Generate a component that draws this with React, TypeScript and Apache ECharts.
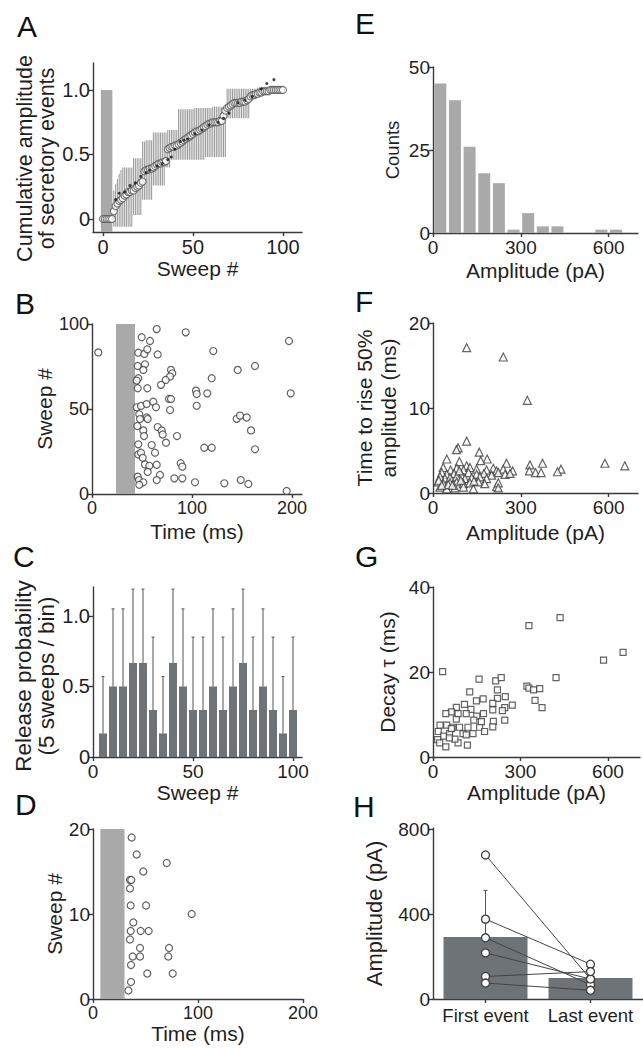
import React, { useEffect, useRef } from "react";
import * as echarts from "echarts";

// ---------------- Panel A: cumulative amplitude vs sweep ----------------
// index = sweep number (0..100)
const aMean = [0, 0, 0, 0, 0, 0,
  0.06, 0.10, 0.12, 0.14, 0.15,
  0.16, 0.18, 0.19, 0.21, 0.21,
  0.22, 0.22, 0.24, 0.25, 0.26,
  0.28, 0.29, 0.37, 0.38, 0.38,
  0.39, 0.39, 0.40, 0.41, 0.42,
  0.43, 0.43, 0.44, 0.44, 0.45,
  0.54, 0.55, 0.56, 0.56, 0.57,
  0.57, 0.58, 0.59, 0.60, 0.61,
  0.62, 0.63, 0.64, 0.65, 0.66,
  0.67, 0.68, 0.68, 0.69, 0.70,
  0.71, 0.72, 0.73, 0.74, 0.74,
  0.75, 0.75, 0.75, 0.75, 0.76,
  0.76, 0.80, 0.84, 0.86, 0.87,
  0.88, 0.89, 0.90, 0.90, 0.90,
  0.90, 0.91, 0.91, 0.91, 0.92,
  0.93, 0.95, 0.96, 0.96, 0.97,
  0.97, 0.98, 0.98, 0.99, 0.99,
  0.99, 0.99, 1.0, 1.0, 1.0,
  1.0, 1.0, 1.0, 1.0, 1.0];
const aUpper = [null, null, null, null, null, null,
  0.22, 0.27, 0.31, 0.35, 0.38,
  0.40, 0.40, 0.40, 0.40, 0.40,
  0.40, 0.47, 0.47, 0.47, 0.47,
  0.47, 0.60, 0.60, 0.61, 0.61,
  0.61, 0.61, 0.67, 0.67, 0.67,
  0.67, 0.67, 0.67, 0.67, 0.67,
  0.69, 0.69, 0.69, 0.69, 0.69,
  0.69, 0.85, 0.85, 0.85, 0.85,
  0.85, 0.85, 0.85, 0.85, 0.85,
  0.86, 0.86, 0.86, 0.86, 0.86,
  0.86, 0.86, 0.86, 0.86, 0.86,
  0.87, 0.87, 0.87, 0.87, 0.87,
  0.87, 0.87, 0.87, 1.01, 1.01,
  1.01, 1.01, 1.01, 1.01, 1.01,
  1.01, 1.01, 1.01, 1.01, 1.01,
  1.01, 1.01, 1.01, 1.01, 1.01,
  1.02, 1.02, 1.02, 1.02, 1.01,
  null, null, null, null, null,
  null, null, null, null, null];
const aLower = [null, null, null, null, null, null,
  -0.06, -0.06, -0.06, -0.06, -0.06,
  -0.06, -0.06, -0.06, -0.06, -0.06,
  -0.06, 0.03, 0.03, 0.03, 0.03,
  0.03, 0.15, 0.15, 0.15, 0.15,
  0.15, 0.15, 0.26, 0.26, 0.26,
  0.26, 0.26, 0.26, 0.26, 0.40,
  0.40, 0.40, 0.46, 0.46, 0.46,
  0.46, 0.46, 0.46, 0.46, 0.46,
  0.46, 0.46, 0.46, 0.46, 0.46,
  0.46, 0.46, 0.46, 0.46, 0.46,
  0.46, 0.48, 0.48, 0.48, 0.48,
  0.48, 0.48, 0.48, 0.48, 0.48,
  0.48, 0.48, 0.48, 0.78, 0.78,
  0.78, 0.78, 0.78, 0.78, 0.78,
  0.78, 0.78, 0.78, 0.78, 0.78,
  0.78, 0.93, 0.93, 0.93, 0.93,
  0.95, 0.97, 0.97, 0.97, 0.97,
  null, null, null, null, null,
  null, null, null, null, null];
const aDotSweep = [7, 9, 12, 15, 18, 21, 24, 26, 30, 33, 36, 38, 40, 43, 45, 47, 51, 55, 59, 64, 67, 70, 75, 79, 83, 88, 91, 95];
const aDotValue = [0.15, 0.20, 0.21, 0.26, 0.28, 0.33, 0.36, 0.38, 0.41, 0.43, 0.46, 0.48, 0.54, 0.60, 0.61, 0.62, 0.66, 0.69, 0.73, 0.75, 0.78, 0.82, 0.90, 0.92, 0.95, 1.01, 1.05, 1.08];
const aStim = [[-1.2, 5.2, -0.1, 1.0]]; // [x0, x1, y0, y1]

// ---------------- Panel B: raster, sweep vs time ----------------
const bTime = [6.3, 64.7, 93.7, 197, 49.7, 58, 46.3, 52.3, 55.3, 65.7, 121.3, 45.7, 53, 51.3, 79, 80.3, 78, 73.7, 69, 46.3, 44.7, 45.7, 55.3, 145.7, 163, 119.7, 77, 79, 104, 104.7, 115.3, 198.7, 44.7, 49, 54.7, 61.3, 64, 47.3, 48, 54.7, 55.7, 78, 104.7, 144.7, 148, 154.7, 159, 45.3, 51.3, 65.7, 69.7, 70.7, 52, 85, 74, 46.3, 59.7, 63, 112.3, 119.7, 163, 46.3, 49, 50.7, 53, 57.3, 55.7, 64.7, 88.7, 90.3, 45.7, 47, 51.3, 47.3, 68, 64.7, 82.3, 90.3, 103, 132.3, 148.7, 156.3, 194.7];
const bSweep = [83.3, 97, 95.1, 90, 92.2, 90, 83.1, 82.4, 85.1, 82.1, 84.1, 75.3, 76.3, 73, 73, 71, 69.1, 67.1, 64.2, 68.1, 66.7, 62.2, 62.2, 73, 75.3, 68.1, 55.9, 55.9, 60.8, 58.8, 59.2, 59.2, 51, 51.8, 52.9, 54.3, 51, 46.9, 44.1, 45, 44.1, 49.4, 51.9, 44.2, 46.1, 45, 37.4, 40, 37.4, 39.4, 37.4, 35, 34.1, 34.1, 30.2, 29.2, 28.8, 24.3, 27.2, 27.2, 26.3, 23.3, 24.3, 21.3, 17.4, 16.6, 13, 17.2, 18.1, 16.1, 10.2, 8.2, 6.9, 5.4, 11.2, 8.2, 9.2, 9.2, 6.9, 6.3, 8.2, 5.9, 1.8];
const bStim = [[24, 43, 0, 100]];

// ---------------- Panel C: release probability per 5-sweep bin ----------------
const cBin = [5, 10, 15, 20, 25, 30, 35, 40, 45, 50, 55, 60, 65, 70, 75, 80, 85, 90, 95, 100];
const cProb = [0.167, 0.5, 0.5, 0.667, 0.667, 0.333, 0.167, 0.667, 0.5, 0.333, 0.333, 0.5, 0.333, 0.5, 0.667, 0.333, 0.5, 0.333, 0.167, 0.333];
const cUpper = [0.57, 1.05, 1.05, 1.19, 1.19, 0.85, 0.57, 1.19, 1.05, 0.85, 0.85, 1.05, 0.85, 1.05, 1.19, 0.85, 1.05, 0.85, 0.57, 0.85];

// ---------------- Panel D: raster, first 20 sweeps ----------------
const dTime = [36.8, 41.6, 70.2, 47.9, 35.2, 36.5, 35.2, 35.9, 50.5, 94, 38.4, 35.9, 45.4, 53, 35.2, 44.8, 72.4, 37.8, 44.8, 71.7, 36.2, 51.7, 75.9, 36.2, 33.7];
const dSweep = [19, 17, 16, 15, 14, 14, 13, 11, 11, 10, 9, 8, 8, 8, 7, 6, 6, 5, 5, 5, 4, 3, 3, 2, 1];
const dStim = [[7, 30, 0, 20]];

// ---------------- Panel E: amplitude histogram (50 pA bins) ----------------
const eBinCenter = [25, 75, 125, 175, 225, 275, 325, 375, 425, 475, 525, 575, 625];
const eCounts = [45, 40, 26, 18, 15, 1, 6, 2, 2, 0, 0, 1, 1];

// ---------------- Panel F: rise time vs amplitude ----------------
const fAmp = [115, 240, 322, 115, 86, 80, 158, 185, 163, 47, 90, 115, 251, 331, 374, 437, 587, 655, 329, 350, 369, 425, 272, 217,
  35, 60, 81, 104, 126, 149, 183, 206, 217, 240,
  30, 47, 72, 98, 121, 149, 174, 200, 223, 246, 263,
  24, 41, 58, 81, 109, 132, 160, 183,
  18, 35, 58, 81, 104, 126, 155, 177, 223,
  24, 47, 75, 104, 138, 223,
  20, 52, 66, 95, 140, 30, 90];
const fRise = [17.1, 16, 10.9, 6.1, 5.3, 5.1, 4.8, 4.0, 3.8, 4.0, 3.7, 3.2, 3.5, 3.3, 3.5, 2.8, 3.5, 3.2, 2.6, 2.4, 2.4, 2.5, 2.6, 0.74,
  3.0, 2.7, 2.9, 2.7, 3.0, 2.8, 2.7, 2.9, 2.6, 2.8,
  2.4, 2.2, 2.3, 2.1, 2.4, 2.2, 2.3, 2.1, 2.4, 2.2, 2.3,
  1.9, 1.7, 1.8, 1.9, 1.7, 1.8, 1.9, 1.7,
  1.3, 1.1, 1.2, 1.3, 1.1, 1.2, 1.3, 1.1, 1.2,
  0.7, 0.5, 0.6, 0.7, 0.5, 0.6,
  1.5, 1.0, 0.9, 1.5, 1.4, 0.9, 2.6];

// ---------------- Panel G: decay tau vs amplitude ----------------
const gAmp = [33, 329, 436, 585, 652, 422, 322, 329, 345, 366, 350, 374, 158, 215, 234, 126, 221, 248, 221, 172, 149, 272, 246, 238, 246, 205, 205, 207, 205, 173, 150, 130, 108, 80, 63, 44, 24, 18, 16, 23, 44, 37, 57, 68, 80, 91, 103, 114, 120, 137, 160, 177, 166, 118, 86, 75, 56, 140, 114, 86, 47, 63];
const gDecay = [20.1, 30.9, 32.8, 22.8, 24.6, 18.7, 16.7, 16.2, 15.8, 16.1, 13.3, 11.6, 18.3, 17.9, 18.7, 15.3, 15.8, 14.2, 13.8, 13.7, 13.2, 12.2, 11.6, 10.9, 8.7, 12.6, 11.1, 8.4, 7.1, 10.2, 9.6, 11.2, 12.4, 11.7, 10.6, 10.2, 7.5, 6.0, 4.1, 3.3, 2.4, 4.9, 5.5, 7.0, 8.9, 7.0, 5.5, 5.2, 7.0, 5.5, 7.0, 6.0, 8.3, 2.8, 3.3, 4.2, 4.5, 8.7, 10.2, 10.2, 7.5, 6.7];

// ---------------- Panel H: first vs last event ----------------
const hCategories = ["First event", "Last event"];
const hMean = [292, 99];
const hErrTop = [511, null];
const hFirst = [678, 376, 288, 217, 106, 75];
const hLast = [94, 164, 67, 94, 129, 41];

// ---------------- styling ----------------
const FONT = "'Liberation Sans', Arial, Helvetica, sans-serif";
const TXT = "#1f1f1f";
const AXC = "#3a3a3a";
const LIGHT = "#a9a9a9";
const DARK = "#6e7378";
const EDGE = "#3c3c3c";

function axis(gridIndex: number, o: any) {
  const custom = o.ticks ? { customValues: o.ticks } : {};
  return {
    type: "value",
    gridIndex,
    min: o.min,
    max: o.max,
    splitLine: { show: false },
    axisLine: { show: true, onZero: false, lineStyle: { color: AXC, width: 1.4 } },
    axisTick: { show: true, length: 4, lineStyle: { color: AXC, width: 1.4 }, ...custom },
    axisLabel: {
      color: TXT, fontFamily: FONT, fontSize: o.fs ?? 19, margin: o.margin ?? 5,
      formatter: o.fmt, ...custom,
    },
    name: o.name,
    nameLocation: "middle",
    nameGap: o.nameGap,
    nameTextStyle: { color: TXT, fontFamily: FONT, fontSize: o.nfs ?? 21, lineHeight: o.lh, padding: o.pad },
  };
}

const fmt1 = (v: number) => (v === 0 ? "0" : v.toFixed(1));

const rectItem = (fill: string) => (_p: any, api: any) => {
  const p0 = api.coord([api.value(0), api.value(3)]);
  const p1 = api.coord([api.value(1), api.value(2)]);
  return {
    type: "rect",
    shape: { x: p0[0], y: p0[1], width: p1[0] - p0[0], height: p1[1] - p0[1] },
    style: { fill },
  };
};

const vline = (color: string, width: number, cap: number) => (_p: any, api: any) => {
  const x = api.value(0);
  const p1 = api.coord([x, api.value(1)]);
  const p2 = api.coord([x, api.value(2)]);
  const children: any[] = [
    { type: "line", shape: { x1: p1[0], y1: p1[1], x2: p2[0], y2: p2[1] }, style: { stroke: color, lineWidth: width } },
  ];
  if (cap > 0) {
    children.push({ type: "line", shape: { x1: p2[0] - cap, y1: p2[1], x2: p2[0] + cap, y2: p2[1] }, style: { stroke: color, lineWidth: width } });
  }
  return { type: "group", children };
};

const openSym = (size: number, symbol = "circle") => ({
  type: "scatter",
  symbol,
  symbolSize: size,
  itemStyle: { color: "#ffffff", borderColor: EDGE, borderWidth: 1.2 },
});

function buildOption() {
  const aCirc = aMean.map((v, i) => [i, v]);
  const aErr: number[][] = [];
  aMean.forEach((_, i) => {
    if (aLower[i] !== null && aUpper[i] !== null) aErr.push([i, aLower[i] as number, aUpper[i] as number]);
  });
  const aDots = aDotSweep.map((s, i) => [s, aDotValue[i]]);
  const bPts = bTime.map((t, i) => [t, bSweep[i]]);
  const cBars = cBin.map((b, i) => [b, cProb[i]]);
  const cErr = cBin.map((b, i) => [b, cProb[i], cUpper[i]]);
  const dPts = dTime.map((t, i) => [t, dSweep[i]]);
  const eBars = eBinCenter.map((c, i) => [c, eCounts[i]]);
  const fPts = fAmp.map((a, i) => [a, fRise[i]]);
  const gPts = gAmp.map((a, i) => [a, gDecay[i]]);
  const hErr: number[][] = [];
  hErrTop.forEach((t, i) => { if (t !== null) hErr.push([i, hMean[i], t]); });

  const letters = [
    ["A", 17, 26], ["B", 15, 303], ["C", 13, 556], ["D", 15, 804],
    ["E", 355, 23], ["F", 355, 301], ["G", 355, 556], ["H", 353, 806],
  ];

  const hPairs = hFirst.map((f, i) => ({
    type: "line",
    xAxisIndex: 7, yAxisIndex: 7,
    data: [f, hLast[i]],
    symbol: "circle",
    symbolSize: 8,
    z: 5,
    lineStyle: { color: "#444", width: 1 },
    itemStyle: { color: "#ffffff", borderColor: EDGE, borderWidth: 1.3 },
  }));

  return {
    animation: false,
    backgroundColor: "#ffffff",
    textStyle: { fontFamily: FONT },
    grid: [
      { left: 93, top: 63, width: 209, height: 169, outerBoundsMode: "none" },
      { left: 92, top: 324, width: 210, height: 170, outerBoundsMode: "none" },
      { left: 93, top: 587, width: 209, height: 170, outerBoundsMode: "none" },
      { left: 93, top: 829, width: 210, height: 170, outerBoundsMode: "none" },
      { left: 433, top: 67, width: 205, height: 166, outerBoundsMode: "none" },
      { left: 433, top: 323, width: 205, height: 170, outerBoundsMode: "none" },
      { left: 433, top: 587, width: 207, height: 170, outerBoundsMode: "none" },
      { left: 433, top: 828, width: 210, height: 171, outerBoundsMode: "none" },
    ],
    xAxis: [
      axis(0, { min: -5.56, max: 110.6, ticks: [0, 50, 100], fs: 20, name: "Sweep #", nameGap: 24 }),
      axis(1, { min: 0, max: 210, ticks: [0, 100, 200], fs: 18, name: "Time (ms)", nameGap: 27 }),
      axis(2, { min: 0, max: 104.5, ticks: [0, 50, 100], fs: 19, name: "Sweep #", nameGap: 22 }),
      axis(3, { min: 0, max: 200, ticks: [0, 100, 200], fs: 18, name: "Time (ms)", nameGap: 19 }),
      axis(4, { min: 0, max: 700, ticks: [0, 300, 600], fs: 19, name: "Amplitude (pA)", nameGap: 27 }),
      axis(5, { min: 0, max: 700, ticks: [0, 300, 600], fs: 19, name: "Amplitude (pA)", nameGap: 29 }),
      axis(6, { min: 0, max: 710, ticks: [0, 300, 600], fs: 19, name: "Amplitude (pA)", nameGap: 25 }),
      {
        type: "category",
        gridIndex: 7,
        data: hCategories,
        axisLine: { show: true, lineStyle: { color: AXC, width: 1.4 } },
        axisTick: { show: true, alignWithLabel: true, length: 4, lineStyle: { color: AXC, width: 1.4 } },
        axisLabel: { color: TXT, fontFamily: FONT, fontSize: 18.5, margin: 7, interval: 0, hideOverlap: false },
      },
    ],
    yAxis: [
      axis(0, { min: -0.1008, max: 1.209, ticks: [0, 0.5, 1.0], fs: 20, fmt: fmt1, margin: 3,
        name: "Cumulative amplitude\nof secretory events", nameGap: 30, nfs: 21.5, lh: 22, pad: [0, 22, 0, 0] }),
      axis(1, { min: 0, max: 100, ticks: [0, 50, 100], fs: 18, margin: 3, name: "Sweep #", nameGap: 34 }),
      axis(2, { min: 0, max: 1.205, ticks: [0, 0.5, 1.0], fs: 20, fmt: fmt1, margin: 3,
        name: "Release probability\n(5 sweeps / bin)", nameGap: 31, nfs: 22.5, lh: 23, pad: [0, 8, 0, 0] }),
      axis(3, { min: 0, max: 20, ticks: [0, 10, 20], fs: 19, margin: 3, name: "Sweep #", nameGap: 28 }),
      axis(4, { min: 0, max: 50, ticks: [0, 25, 50], fs: 19, margin: 3, name: "Counts", nameGap: 31, nfs: 18.5 }),
      axis(5, { min: 0, max: 20, ticks: [0, 10, 20], fs: 19, margin: 3,
        name: "Time to rise 50%\namplitude (ms)", nameGap: 33, nfs: 21, lh: 24 }),
      axis(6, { min: 0, max: 40, ticks: [0, 20, 40], fs: 19, margin: 3, name: "Decay τ (ms)", nameGap: 35 }),
      axis(7, { min: 0, max: 805, ticks: [0, 400, 800], fs: 19, margin: 3, name: "Amplitude (pA)", nameGap: 48, nfs: 22 }),
    ],
    series: [
      // A
      { type: "custom", xAxisIndex: 0, yAxisIndex: 0, data: aStim, renderItem: rectItem(LIGHT), encode: { x: [0, 1], y: [2, 3] }, z: 1 },
      { type: "custom", xAxisIndex: 0, yAxisIndex: 0, data: aErr, renderItem: vline("#9c9c9c", 1.1, 0), encode: { x: 0, y: [1, 2] }, z: 2 },
      { ...openSym(7), xAxisIndex: 0, yAxisIndex: 0, data: aCirc, z: 3, itemStyle: { color: "#ffffff", borderColor: "#555", borderWidth: 1.1 } },
      { type: "scatter", xAxisIndex: 0, yAxisIndex: 0, data: aDots, symbolSize: 3, itemStyle: { color: "#111" }, z: 4 },
      // B
      { type: "custom", xAxisIndex: 1, yAxisIndex: 1, data: bStim, renderItem: rectItem(LIGHT), encode: { x: [0, 1], y: [2, 3] }, z: 1 },
      { ...openSym(7), xAxisIndex: 1, yAxisIndex: 1, data: bPts, z: 3 },
      // C
      { type: "bar", xAxisIndex: 2, yAxisIndex: 2, data: cBars, barWidth: 8, itemStyle: { color: DARK }, z: 2 },
      { type: "custom", xAxisIndex: 2, yAxisIndex: 2, data: cErr, renderItem: vline("#555", 1, 1.5), encode: { x: 0, y: [1, 2] }, z: 3 },
      // D
      { type: "custom", xAxisIndex: 3, yAxisIndex: 3, data: dStim, renderItem: rectItem(LIGHT), encode: { x: [0, 1], y: [2, 3] }, z: 1 },
      { ...openSym(7), xAxisIndex: 3, yAxisIndex: 3, data: dPts, z: 3 },
      // E
      { type: "bar", xAxisIndex: 4, yAxisIndex: 4, data: eBars, barWidth: 12, itemStyle: { color: LIGHT }, z: 2 },
      // F
      { ...openSym(8, "triangle"), xAxisIndex: 5, yAxisIndex: 5, data: fPts, z: 3 },
      // G
      { ...openSym(6, "rect"), xAxisIndex: 6, yAxisIndex: 6, data: gPts, z: 3 },
      // H
      { type: "bar", xAxisIndex: 7, yAxisIndex: 7, data: hMean, barWidth: 84, itemStyle: { color: DARK }, z: 2 },
      { type: "custom", xAxisIndex: 7, yAxisIndex: 7, data: hErr, renderItem: vline("#555", 1, 2), encode: { x: 0, y: [1, 2] }, z: 3 },
      ...hPairs,
    ],
    graphic: letters.map(([t, x, y]) => ({
      type: "text",
      x: x as number,
      y: y as number,
      style: { text: t as string, font: `30px ${FONT}`, fill: "#111", verticalAlign: "middle", align: "left" },
    })),
  };
}

export default function App() {
  const ref = useRef<HTMLDivElement>(null);
  useEffect(() => {
    document.body.style.margin = "0";
    const chart = echarts.init(ref.current as HTMLDivElement, undefined, { renderer: "svg" });
    chart.setOption(buildOption() as any);
    return () => chart.dispose();
  }, []);
  return <div ref={ref} style={{ width: 643, height: 1048 }} />;
}
